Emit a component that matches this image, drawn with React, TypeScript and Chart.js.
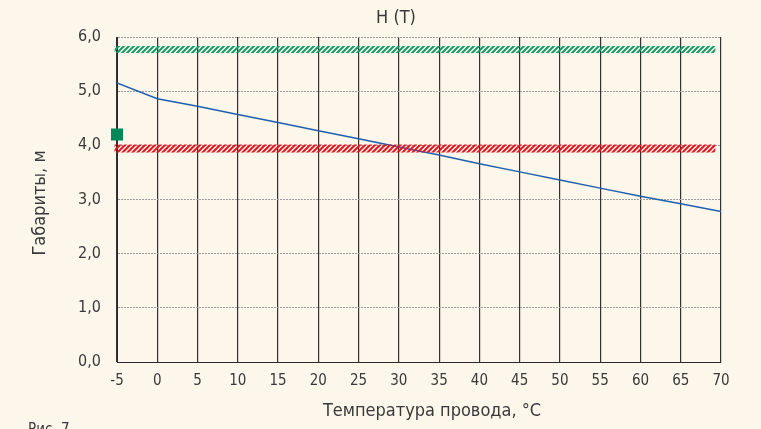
import React, { useEffect, useRef } from "react";
import { Chart, registerables } from "chart.js";

Chart.register(...registerables);

const temperatures = [-5, 0, 5, 10, 15, 20, 25, 30, 35, 40, 45, 50, 55, 60, 65, 70];
const clearance = [5.15, 4.86, 4.72, 4.57, 4.42, 4.27, 4.12, 3.97, 3.82, 3.66, 3.51, 3.36, 3.21, 3.06, 2.92, 2.78];
const bandX = [-5.3, 69.3];
const upperLimit = 5.77;
const lowerLimit = 3.94;
const markerX = [-5];
const markerY = [4.2];
const xTicks = [-5, 0, 5, 10, 15, 20, 25, 30, 35, 40, 45, 50, 55, 60, 65, 70];
const yTicks = [0, 1, 2, 3, 4, 5, 6];

const FONT = "'Liberation Sans Narrow', 'DejaVu Sans Condensed', 'Roboto', sans-serif";
const TEXT = "#3a3a3a";

function hatch(color: string): CanvasPattern | string {
  const n = 5;
  const c = document.createElement("canvas");
  c.width = n;
  c.height = n;
  const g = c.getContext("2d");
  if (!g) return color;
  g.strokeStyle = color;
  g.lineWidth = 2;
  g.beginPath();
  for (let k = -1; k <= 1; k++) {
    g.moveTo(-1 + k * n, n + 1);
    g.lineTo(n + 1 + k * n, -1);
  }
  g.stroke();
  const p = g.createPattern(c, "repeat");
  return p || color;
}

const textPlugin = {
  id: "texts",
  afterDraw(chart: any) {
    const ctx = chart.ctx;
    ctx.save();
    ctx.fillStyle = TEXT;
    ctx.textAlign = "center";
    ctx.textBaseline = "middle";
    ctx.font = `18px ${FONT}`;
    ctx.fillText("H (T)", 396, 18);
    ctx.fillText("Температура провода, °C", 432, 411);
    ctx.save();
    ctx.translate(40, 203);
    ctx.rotate(-Math.PI / 2);
    ctx.fillText("Габариты, м", 0, 0);
    ctx.restore();
    ctx.textAlign = "left";
    ctx.textBaseline = "alphabetic";
    ctx.font = `15px ${FONT}`;
    ctx.fillText("Рис. 7", 28, 434);
    ctx.restore();
  },
};

export default function App() {
  const ref = useRef<HTMLCanvasElement | null>(null);

  useEffect(() => {
    if (!ref.current) return;
    const line = temperatures.map((t, i) => ({ x: t, y: clearance[i] }));
    const upper = bandX.map((x) => ({ x, y: upperLimit }));
    const lower = bandX.map((x) => ({ x, y: lowerLimit }));
    const marker = markerX.map((x, i) => ({ x, y: markerY[i] }));

    const chart = new Chart(ref.current, {
      type: "line",
      data: {
        datasets: [
          {
            data: upper,
            borderColor: hatch("#139a68") as any,
            borderWidth: 7,
            borderCapStyle: "butt",
            pointRadius: 0,
            clip: false as any,
          },
          {
            data: lower,
            borderColor: hatch("#e5141f") as any,
            borderWidth: 8,
            borderCapStyle: "butt",
            pointRadius: 0,
            clip: false as any,
          },
          {
            data: line,
            borderColor: "#1f5fae",
            borderWidth: 1.5,
            pointRadius: 0,
            tension: 0,
          },
          {
            data: marker,
            showLine: false,
            pointStyle: "rect",
            pointRadius: 8.5,
            pointBackgroundColor: "#00875a",
            pointBorderWidth: 0,
            borderColor: "#00875a",
            clip: false as any,
          },
        ],
      },
      options: {
        responsive: false,
        animation: false,
        layout: { padding: { top: 37, right: 40, left: 0, bottom: 0 } },
        plugins: {
          legend: { display: false },
          tooltip: { enabled: false },
          title: { display: false },
        },
        scales: {
          x: {
            type: "linear",
            min: -5,
            max: 70,
            afterFit: (s: any) => {
              s.height = 67;
            },
            afterBuildTicks: (s: any) => {
              s.ticks = xTicks.map((v) => ({ value: v }));
            },
            ticks: {
              padding: 10,
              color: TEXT,
              font: { family: FONT, size: 15 },
              maxRotation: 0,
              autoSkip: false,
            },
            grid: { color: "#333333", lineWidth: 1.2, drawTicks: false },
            border: { color: "#2a2a2a", width: 1 },
          },
          y: {
            min: 0,
            max: 6,
            afterFit: (s: any) => {
              s.width = 117;
            },
            afterBuildTicks: (s: any) => {
              s.ticks = yTicks.map((v) => ({ value: v }));
            },
            ticks: {
              padding: 16,
              color: TEXT,
              font: { family: FONT, size: 16 },
              callback: (v: any) => Number(v).toFixed(1).replace(".", ","),
            },
            grid: { color: "#9a9a9a", lineWidth: 1, drawTicks: false },
            border: { color: "#2a2a2a", width: 1, dash: [2, 1] },
          },
        },
      },
      plugins: [textPlugin],
    });
    return () => chart.destroy();
  }, []);

  return (
    <div
      style={{
        position: "fixed",
        left: 0,
        top: 0,
        width: 761,
        height: 429,
        background: "#fdf6ea",
        overflow: "hidden",
      }}
    >
      <canvas ref={ref} width={761} height={429} style={{ display: "block" }} />
    </div>
  );
}
